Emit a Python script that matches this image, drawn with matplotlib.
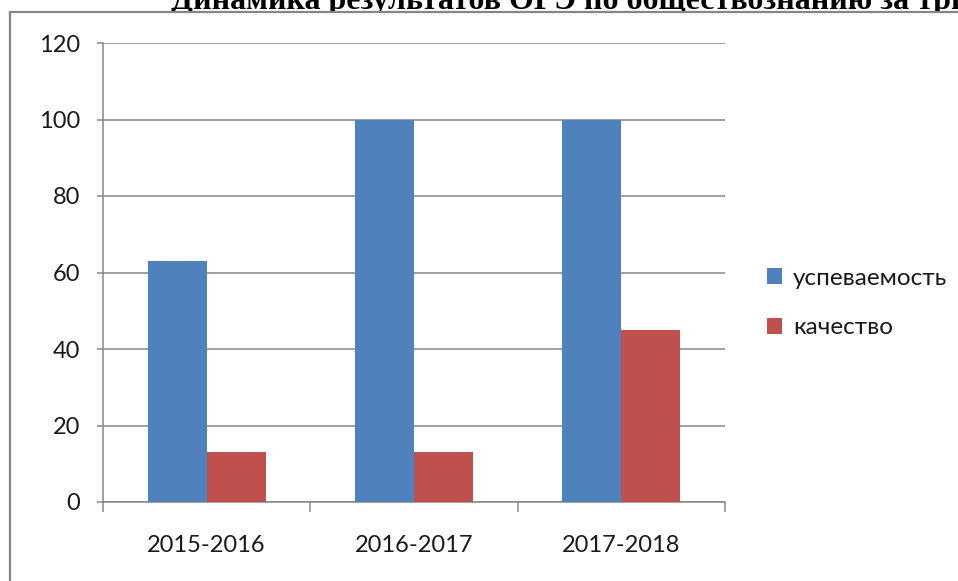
import numpy as np
import matplotlib
matplotlib.use("Agg")
import matplotlib.pyplot as plt
from matplotlib.patches import Rectangle

# data
years = ["2015-2016", "2016-2017", "2017-2018"]
uspev = [63, 100, 100]
kach = [13, 13, 45]
series_names = ["успеваемость", "качество"]
title = "Динамика результатов ОГЭ по обществознанию за три года"

plt.rcParams['font.family'] = ['Lato', 'DejaVu Sans']
grey = "#868686"

fig = plt.figure(figsize=(9.58, 5.81), dpi=100)

# title sits partly behind the chart frame and is cut off by the page edge
fig.text(171 / 958, 1 - 9 / 581, title, fontsize=23, fontweight='bold',
         family='Liberation Serif', ha='left', va='baseline', zorder=0)

# outer chart frame
frame = Rectangle((10 / 958, -0.1), 1.2, 1 - 12 / 581 + 0.1, transform=fig.transFigure,
                  facecolor='white', edgecolor=grey, linewidth=1.6, zorder=1)
fig.patches.append(frame)

ax = fig.add_axes([103 / 958, 1 - 502 / 581, 622 / 958, 459 / 581])
ax.set_zorder(2)

x = np.arange(len(years))
w = 0.285
ax.bar(x - w / 2, uspev, w, color="#4F81BD", label=series_names[0], zorder=3)
ax.bar(x + w / 2, kach, w, color="#C0504D", label=series_names[1], zorder=3)

ax.set_xlim(-0.5, len(years) - 0.5)
ax.set_ylim(0, 120)
ax.set_yticks(np.arange(0, 121, 20))
ax.yaxis.grid(True, color=grey, linewidth=1.1)
ax.set_axisbelow(True)

ax.set_xticks(x)
ax.set_xticklabels(years)
ax.set_xticks(np.arange(-0.5, len(years)), minor=True)
ax.tick_params(axis='x', which='major', length=0, pad=24, labelsize=17, labelcolor='#1a1a1a')
ax.tick_params(axis='x', which='minor', length=7.5, width=1.1, color=grey, direction='out')
ax.tick_params(axis='y', length=4.5, width=1.1, color=grey, pad=12, labelsize=17, labelcolor='#1a1a1a')

for s in ['top', 'right']:
    ax.spines[s].set_visible(False)
for s in ['left', 'bottom']:
    ax.spines[s].set_color(grey)
    ax.spines[s].set_linewidth(1.1)

leg = ax.legend(loc='center left', bbox_to_anchor=(1.032, 0.4335), frameon=False, fontsize=17.5,
                handlelength=0.62, handleheight=0.62, handletextpad=0.45, labelspacing=1.17)
for t in leg.get_texts():
    t.set_color('#1a1a1a')

fig.savefig("out.png", dpi=100)
